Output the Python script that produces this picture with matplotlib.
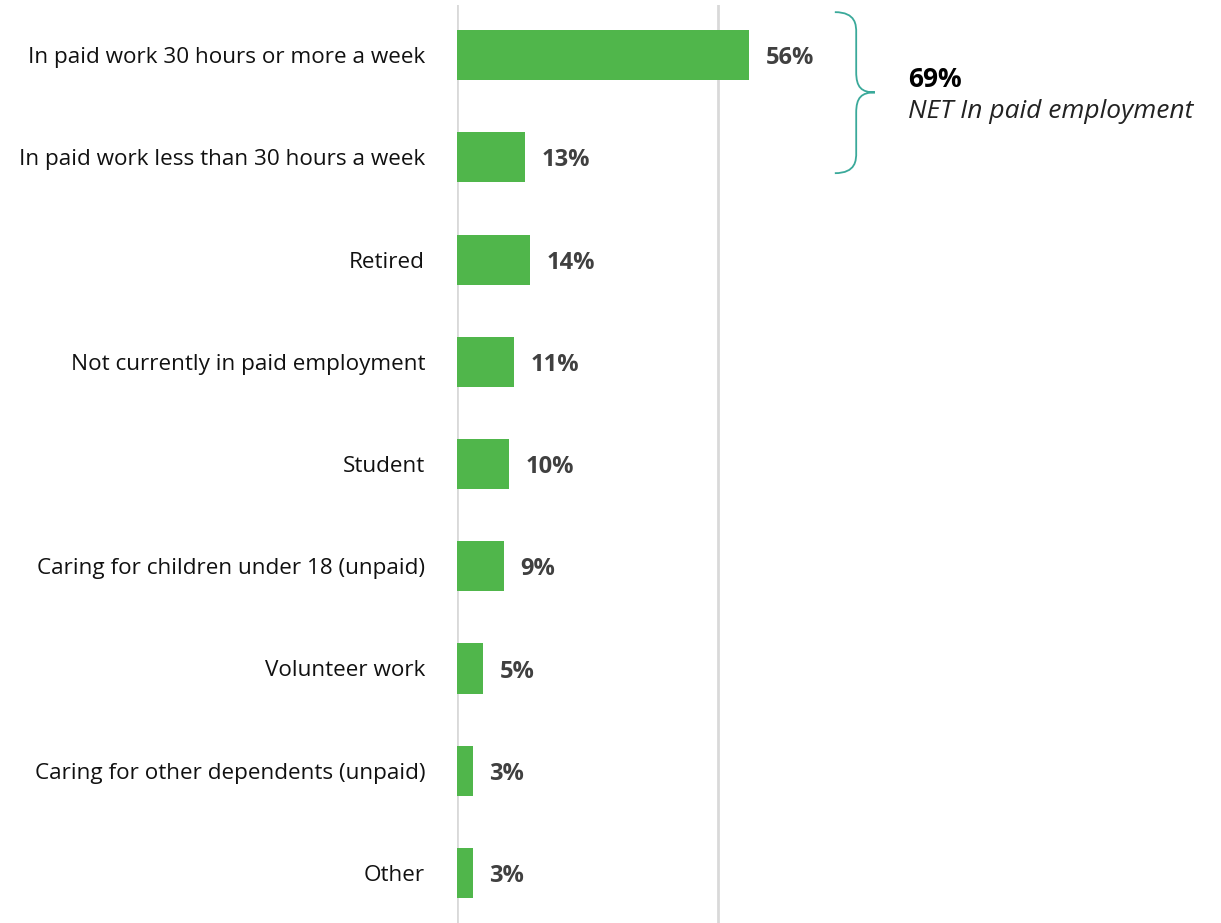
import matplotlib
matplotlib.use('Agg')
import matplotlib.pyplot as plt
from matplotlib.path import Path
from matplotlib.patches import PathPatch

categories = ['In paid work 30 hours or more a week',
              'In paid work less than 30 hours a week',
              'Retired',
              'Not currently in paid employment',
              'Student',
              'Caring for children under 18 (unpaid)',
              'Volunteer work',
              'Caring for other dependents (unpaid)',
              'Other']
values = [56, 13, 14, 11, 10, 9, 5, 3, 3]
net_value = 69
net_label = 'NET In paid employment'

plt.rcParams['font.family'] = ['Open Sans', 'DejaVu Sans']

fig = plt.figure(figsize=(12.21, 9.23), dpi=100)
ax = fig.add_axes([457 / 1221, 0, 1 - 457 / 1221, 918 / 923])

ypos = list(range(len(categories)))
ax.barh(ypos, values, height=0.49, color='#50b64b', zorder=2)
for x in [0, 50]:
    ax.axvline(x, color='#d9d9d9', lw=2, zorder=1)

for y, v in zip(ypos, values):
    ax.text(v + 3.2, y + 0.03, f'{v}%', va='center', ha='left', fontsize=17,
            fontweight='bold', color='#404040')

ax.set_xlim(0, 146.6)
ax.set_ylim(8.49, -0.49)
ax.set_yticks(ypos)
ax.set_yticklabels(categories, fontsize=16.2, color='#111111')
ax.tick_params(axis='y', length=0, pad=23)
ax.set_xticks([])
for s in ax.spines.values():
    s.set_visible(False)

# brace around first two rows
x0, x1, x2 = 72.5, 76.6, 80.2
yt, ym, yb = -0.42, 0.365, 1.155
verts = [(x0, yt), (x1, yt), (x1, yt + 0.13), (x1, yt + 0.2),
         (x1, ym - 0.2),
         (x1, ym - 0.05), (x1 + 1.0, ym), (x2, ym),
         (x1 + 1.0, ym), (x1, ym + 0.05), (x1, ym + 0.2),
         (x1, yb - 0.2),
         (x1, yb - 0.13), (x1, yb), (x0, yb)]
codes = [Path.MOVETO, Path.CURVE4, Path.CURVE4, Path.CURVE4,
         Path.LINETO,
         Path.CURVE4, Path.CURVE4, Path.CURVE4,
         Path.CURVE4, Path.CURVE4, Path.CURVE4,
         Path.LINETO,
         Path.CURVE4, Path.CURVE4, Path.CURVE4]
ax.add_patch(PathPatch(Path(verts, codes), fill=False, edgecolor='#3aa99a',
                       lw=1.3, clip_on=False))

ax.text(86.6, 0.24, f'{net_value}%', fontsize=19, fontweight='bold',
        color='black', va='center', ha='left')
ax.text(86.6, 0.55, net_label, fontsize=19, style='italic',
        color='#222222', va='center', ha='left')

fig.savefig('out.png', dpi=100)
